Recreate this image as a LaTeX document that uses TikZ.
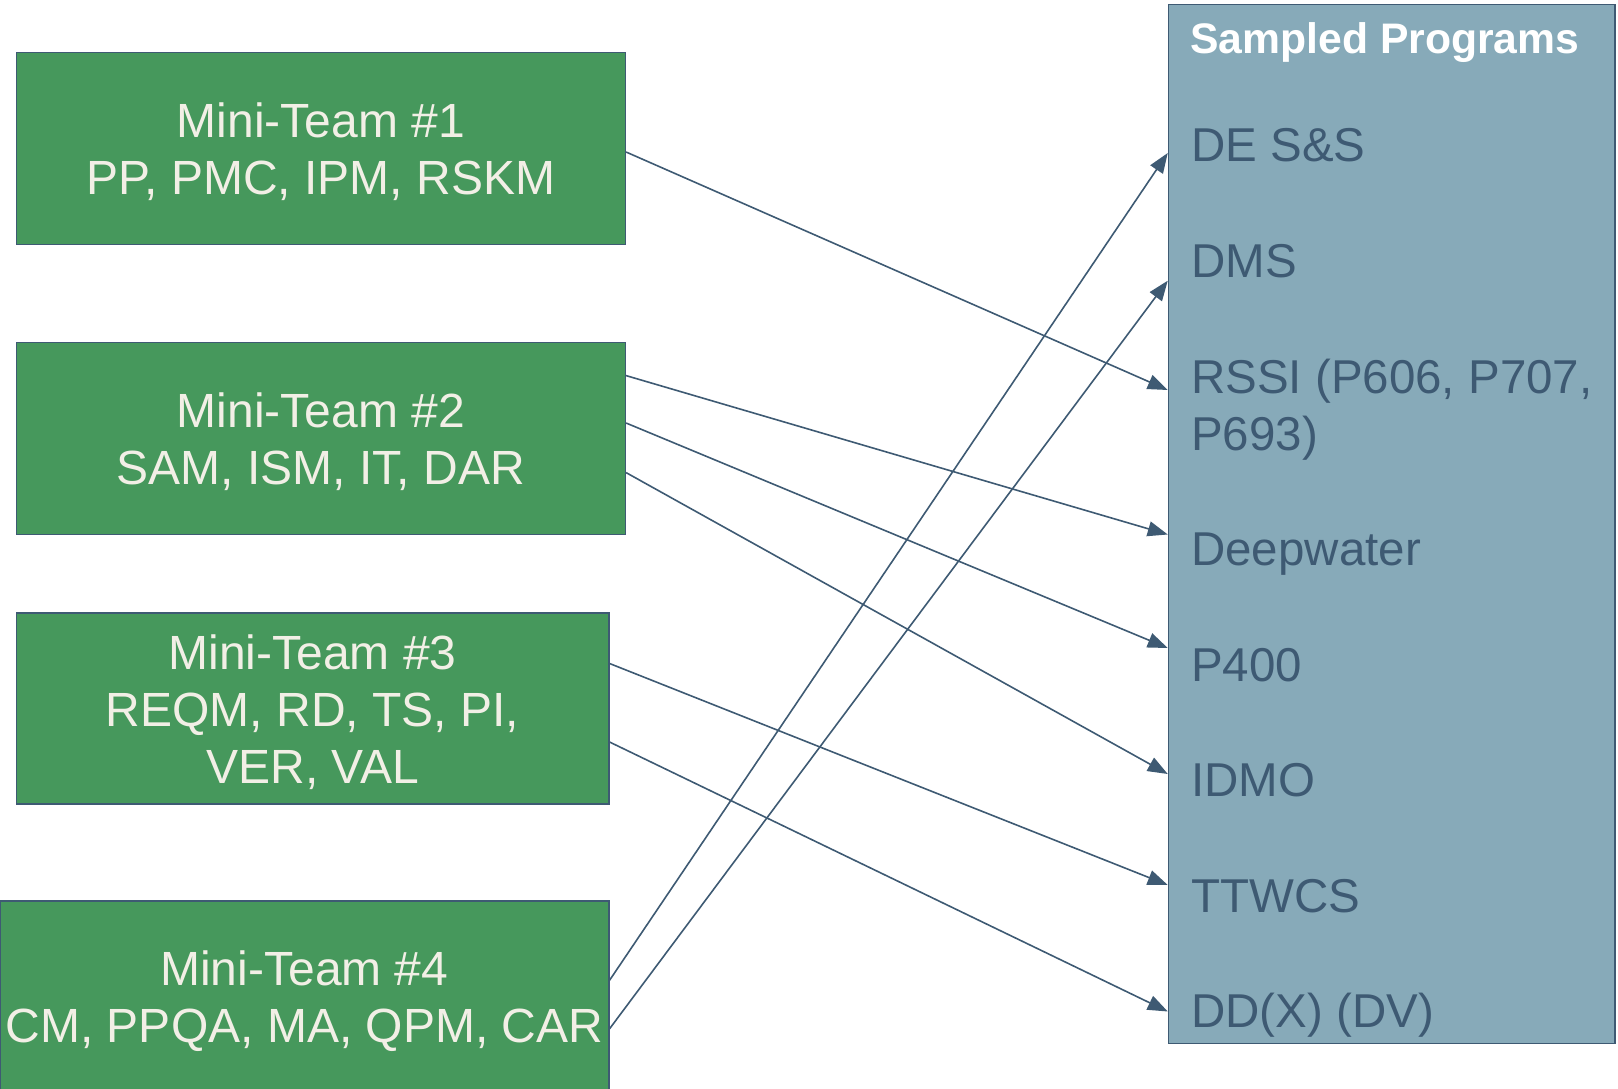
\documentclass[tikz,border=0pt]{standalone}
\usepackage{fontspec}
\setmainfont{Liberation Sans}
\usetikzlibrary{arrows.meta}
\definecolor{teamgreen}{HTML}{46985C}
\definecolor{progblue}{HTML}{87AAB9}
\definecolor{edgeblue}{HTML}{3E5A73}
\definecolor{cream}{HTML}{F2EFE6}
\begin{document}
\begin{tikzpicture}[x=1pt,y=-1pt,
  team/.style={draw=edgeblue, line width=1.5pt, fill=teamgreen, inner sep=0pt},
  teamtext/.style={text=cream, align=center, inner sep=0pt, yshift=-3.5pt, font=\fontsize{48}{57}\selectfont},
  item/.style={anchor=base west, inner sep=0pt, text=edgeblue, font=\fontsize{47.5}{57}\selectfont},
  conn/.style={draw=edgeblue, line width=1.6pt, -{Triangle[length=20pt,width=15pt]}}]
\useasboundingbox (0,0) rectangle (1618,1089);
\node[team, minimum width=608.8pt, minimum height=192pt, label={[teamtext]center:{Mini-Team \#1\\PP, PMC, IPM, RSKM}}] (t1) at (320.9,148.6) {};
\node[team, minimum width=608.8pt, minimum height=192pt, label={[teamtext]center:{Mini-Team \#2\\SAM, ISM, IT, DAR}}] (t2) at (320.9,438.6) {};
\node[team, minimum width=592.3pt, minimum height=191pt, label={[teamtext]center:{Mini-Team \#3\\REQM, RD, TS, PI,\\VER, VAL}}] (t3) at (312.65,708.5) {};
\node[team, minimum width=608.8pt, minimum height=194pt, label={[teamtext]center:{Mini-Team \#4\\CM, PPQA, MA, QPM, CAR}}] (t4) at (304.4,998) {};
\node[draw=edgeblue, line width=1.5pt, fill=progblue, minimum width=446.5pt, minimum height=1039pt, inner sep=0pt] (prog) at (1391.75,524) {};
\node[anchor=base west, inner sep=0pt, text=white, font=\bfseries\fontsize{42.7}{50}\selectfont] (title) at (1190,54) {Sampled Programs};
\node[item] (i1) at (1191,162) {DE S\&S};
\node[item] (i2) at (1191,277.5) {DMS};
\node[item] (i3) at (1191,393) {RSSI (P606, P707,};
\node[item] (i3b) at (1191,450) {P693)};
\node[item] (i4) at (1191,565.5) {Deepwater};
\node[item] (i5) at (1191,681) {P400};
\node[item] (i6) at (1191,796.5) {IDMO};
\node[item] (i7) at (1191,912.5) {TTWCS};
\node[item] (i8) at (1191,1027) {DD(X) (DV)};
\draw[conn] (t1.east |- 0,152) -- (prog.west |- 0,390);
\draw[conn] (t2.east |- 0,375.6) -- (prog.west |- 0,534.5);
\draw[conn] (t2.east |- 0,423) -- (prog.west |- 0,648);
\draw[conn] (t2.east |- 0,472.6) -- (prog.west |- 0,774);
\draw[conn] (t3.east |- 0,663.5) -- (prog.west |- 0,885);
\draw[conn] (t3.east |- 0,742) -- (prog.west |- 0,1011.5);
\draw[conn] (t4.east |- 0,980.3) -- (prog.west |- 0,153);
\draw[conn] (t4.east |- 0,1028.8) -- (prog.west |- 0,280.7);
\end{tikzpicture}
\end{document}
